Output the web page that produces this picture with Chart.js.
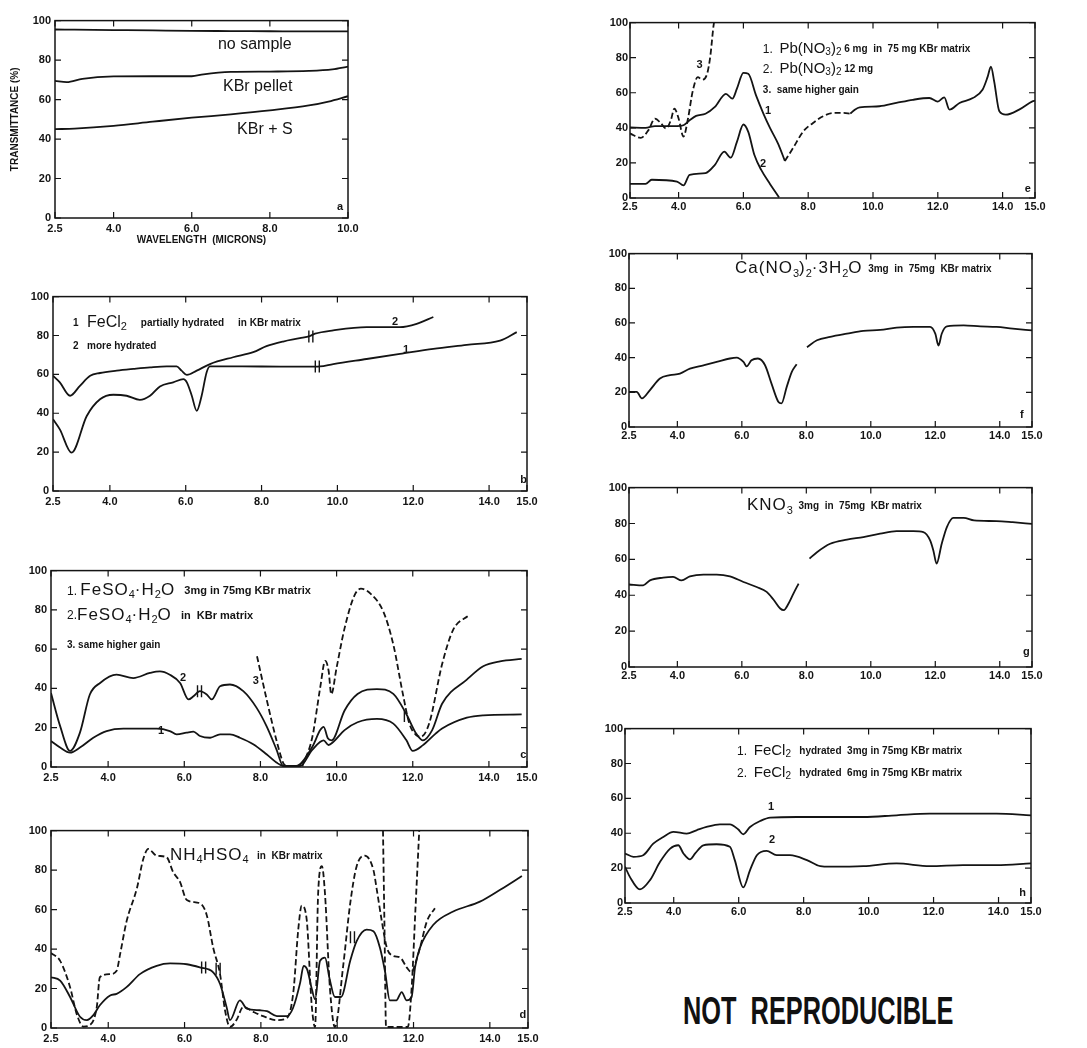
<!DOCTYPE html>
<html>
<head>
<meta charset="utf-8">
<script src="https://cdn.jsdelivr.net/npm/chart.js"></script>
<style>
  html, body { margin: 0; padding: 0; background: #fff; width: 1087px; height: 1048px; overflow: hidden; position: relative; }
  canvas { position: absolute; }
  #stamp {
    position: absolute; left: 683px; top: 992px; white-space: nowrap;
    font: bold 38px "Liberation Sans", Arial, sans-serif; line-height: 38px; color: #111;
    transform: scaleX(0.667); transform-origin: left top;
  }
</style>
</head>
<body>
<canvas id="pa"></canvas>
<canvas id="pb"></canvas>
<canvas id="pc"></canvas>
<canvas id="pd"></canvas>
<canvas id="pe"></canvas>
<canvas id="pf"></canvas>
<canvas id="pg"></canvas>
<canvas id="ph"></canvas>
<div id="stamp">NOT&nbsp;&nbsp;REPRODUCIBLE</div>
<script>
// tick labels
const xTicksShort = [2.5, 4, 6, 8, 10];
const xTicksLong = [2.5, 4, 6, 8, 10, 12, 14, 15];
const yTicks = [0, 20, 40, 60, 80, 100];

// [wavelength (microns), transmittance (%)]
// panel a
const aNoSample = [[2.5,95.5],[3.0,95.4],[4.0,95.2],[5.0,95],[6.0,94.8],[7.0,94.7],[8.0,94.6],[9.0,94.5],[10.0,94.5]];
const aPellet = [[2.5,69.5],[2.8,68.8],[3.2,70.5],[4.0,71.7],[5.0,71.8],[6.0,71.8],[6.3,72.8],[7.0,74],[8.0,74.2],[9.0,74.5],[9.6,75.3],[10.0,76.7]];
const aPelletS = [[2.5,45],[3.0,45.3],[4.0,46.7],[5.0,48.8],[6.0,50.8],[7.0,52.5],[8.0,54.5],[9.0,57],[9.5,59],[10.0,61.7]];

// panel b  FeCl2
const b1 = [[2.5,36.9],[2.68,31.7],[2.99,19.7],[3.39,38.6],[3.74,47.2],[4.09,49.5],[4.44,49],[4.79,46.9],[5.06,49],[5.32,53.8],[5.67,55.9],[5.94,57.6],[6.03,55.9],[6.16,49],[6.29,41.2],[6.42,49],[6.55,61],[6.64,64.1],[7.5,64.1],[8.5,64],[9.41,64],[9.54,64.1],[9.89,65.3],[10.77,67.9],[11.65,70.5],[12.53,73.1],[13.41,75.2],[14.29,77.4],[14.73,81.7]];
const b2 = [[2.5,59.3],[2.68,55.9],[2.95,49],[3.21,54.1],[3.48,59.3],[3.74,60.7],[4.18,61.9],[4.62,62.8],[5.06,63.6],[5.5,64.1],[5.76,64.1],[5.89,61.9],[6.03,59.7],[6.29,61.9],[6.64,65.3],[7.25,68.8],[7.78,71.4],[8.13,74.5],[8.57,76.9],[9.01,78.6],[9.27,79.7],[9.41,80.9],[9.89,82.6],[10.77,84.3],[11.65,84.3],[12.09,86],[12.53,89.5]];

// panel c  FeSO4.H2O
const c1 = [[2.5,13.2],[2.74,9.9],[3.0,7.3],[3.26,9.9],[3.61,14.9],[3.96,18.3],[4.4,19.5],[4.92,19.5],[5.28,19.5],[5.62,18.3],[5.8,16.6],[6.06,17.5],[6.24,18],[6.41,15.8],[6.68,14.9],[6.94,16.6],[7.2,16.6],[7.46,14.9],[7.81,11.6],[8.16,6.5],[8.42,2.3],[8.6,0.5],[9.04,0.5],[9.36,8.7],[9.66,13.6],[9.79,11.2],[9.91,12.7],[10.21,18.8],[10.55,22.8],[11.06,24.5],[11.49,22.1],[11.83,13.7],[12.0,8.2],[12.26,11],[12.6,17],[12.77,19.6],[13.42,25.1],[13.85,26.3],[14.86,26.8]];
const c2 = [[2.5,37.7],[2.74,20.8],[3.0,8.2],[3.26,17.5],[3.52,36.9],[3.79,42.8],[4.22,47],[4.66,45.3],[5.1,47.9],[5.36,48.7],[5.62,47],[5.89,42.8],[6.11,34.4],[6.24,36],[6.41,38.6],[6.59,36.9],[6.72,34.4],[6.94,41.1],[7.2,42],[7.55,38.6],[7.9,30.1],[8.16,20.8],[8.42,9],[8.6,0.5],[8.94,0.5],[9.36,10.2],[9.57,18.8],[9.66,20.4],[9.77,14.6],[9.87,13.6],[10.21,28.8],[10.55,37.2],[11.06,39.7],[11.49,37.2],[11.83,27],[12.09,17],[12.26,13.6],[12.51,18.8],[12.77,32.2],[13.42,44.5],[13.85,51.3],[14.29,53.8],[14.86,55]];
const c3a = [[7.91,56.4],[8.17,33.8],[8.43,12.9],[8.6,2],[8.68,0.3]];
const c3b = [[9.1,0.3],[9.36,15],[9.57,40.5],[9.7,54],[9.79,49],[9.86,37],[10.0,50.6],[10.21,70.7],[10.47,87.4],[10.64,90.8],[10.89,88.3],[11.23,79],[11.49,62.3],[11.74,37.2],[11.91,22.1],[12.09,16.2],[12.21,15.4],[12.43,22.1],[12.77,52.3],[13.06,69.8],[13.48,77.4]];

// panel d  NH4HSO4
const dSolid = [[2.5,25.7],[2.74,24],[3.0,15.7],[3.26,5.7],[3.44,4],[3.61,6.5],[3.78,11.5],[4.05,16.5],[4.22,17.3],[4.48,20.7],[4.83,27.3],[5.27,31.5],[5.62,32.7],[6.06,32.3],[6.4,30.7],[6.75,28.2],[6.93,22.3],[7.1,10.7],[7.19,4],[7.45,14],[7.63,9.8],[7.98,9],[8.16,8.5],[8.42,6],[8.68,6],[8.84,10],[9.03,23],[9.12,31.5],[9.21,29.8],[9.34,19.4],[9.42,14.5],[9.55,34],[9.68,35.7],[9.8,25],[9.94,15.7],[10.1,15.7],[10.34,34],[10.51,44],[10.77,49.8],[10.95,49],[11.12,40.7],[11.25,29],[11.38,14],[11.55,14],[11.69,18.2],[11.82,14],[11.95,15.7],[12.04,30.7],[12.17,40.7],[12.52,52.3],[13.04,59],[13.74,64],[14.27,70],[14.84,77]];
const dDash = [[2.5,38],[2.74,34],[3.0,20.7],[3.17,7.3],[3.35,0.7],[3.52,1.5],[3.7,10.7],[3.78,25.7],[4.05,27.3],[4.22,29],[4.31,37.3],[4.48,54],[4.75,70.7],[4.92,85.7],[5.05,90.7],[5.27,87.3],[5.53,86.5],[5.7,79],[5.88,74],[6.06,64.8],[6.4,63.2],[6.58,57.3],[6.75,40.7],[6.93,27.3],[7.06,9],[7.19,0.5],[7.36,4],[7.54,10.7],[7.8,8.2],[8.06,6],[8.41,4],[8.68,5],[8.85,18],[8.98,50],[9.07,62],[9.2,55],[9.33,12],[9.42,0.5],[9.5,68],[9.6,82],[9.68,68],[9.81,20],[9.94,0.5],[10.16,32],[10.34,63],[10.51,82],[10.72,87.3],[10.95,80],[11.03,71],[11.17,54],[11.3,40.7],[11.47,36.5],[11.65,35.7],[11.82,30.7],[11.95,28.2],[12.04,32.3],[12.17,40.7],[12.35,54],[12.56,60.7]];
const dDash2 = [[11.2,100],[11.24,50],[11.28,0.5],[11.85,0.5],[11.95,20],[12.05,60],[12.15,100]];

// panel e  Pb(NO3)2
const e1a = [[2.5,40.2],[2.98,40],[3.27,41],[3.61,41],[3.95,41],[4.15,41.5],[4.34,44.3],[4.54,46.8],[4.83,48],[5.12,51.9],[5.46,59.4],[5.66,56.6],[5.8,62.3],[6.0,71.3],[6.15,70.8],[6.39,58.5],[6.62,48],[6.82,40],[7.08,30.6],[7.28,21.1]];
const e1b = [[7.28,21.1],[7.54,28.7],[7.85,38],[8.15,42.8],[8.46,46.6],[8.77,48.5],[9.08,48.5],[9.3,48.1]];
const e1c = [[9.3,48.1],[9.45,50.5],[9.59,51.7],[10.2,52.3],[10.72,54.2],[11.23,56],[11.74,57],[12.0,55],[12.2,57.4],[12.36,50.4],[12.67,54.2],[13.08,57],[13.38,61.7],[13.54,69.2],[13.64,74.9],[13.74,66.4],[13.9,49.4],[14.1,47.5],[14.51,50.4],[14.92,55.1],[15,55.5]];
const e2 = [[2.5,8.1],[2.98,8],[3.17,10.4],[3.95,9.4],[4.15,7.2],[4.34,13.2],[4.83,14.2],[5.12,18.9],[5.41,26.4],[5.61,23],[5.8,32],[6.0,41.9],[6.15,37.7],[6.34,24.5],[6.55,16],[6.82,8],[7.03,2.3],[7.1,0.3]];
const e3 = [[2.5,36.8],[2.83,34.3],[3.07,38.7],[3.27,45.3],[3.46,42.5],[3.61,39.6],[3.76,44.3],[3.87,51],[4.0,45.3],[4.15,35],[4.29,45.3],[4.44,61.3],[4.59,68.9],[4.73,67.5],[4.88,70.8],[4.98,81],[5.07,97],[5.1,101]];

// panel f  Ca(NO3)2.3H2O
const f1 = [[2.5,20.3],[2.74,20.3],[2.9,16.5],[3.15,21.3],[3.46,28],[3.77,29.9],[4.08,30.8],[4.39,33.7],[4.81,35.6],[5.22,37.5],[5.63,39.5],[5.84,40],[6.05,37.5],[6.15,35],[6.3,38.5],[6.5,39.5],[6.72,35.6],[6.92,25],[7.13,14.6],[7.23,13.6],[7.39,23],[7.55,31.8],[7.7,36.2]];
const f2 = [[8.02,46],[8.33,50],[8.74,52],[9.26,53.8],[9.77,55.4],[10.29,56],[10.8,57.3],[11.32,57.7],[11.84,57.7],[12.0,53.8],[12.1,47],[12.2,53.8],[12.36,58],[12.88,58.6],[13.4,58],[13.9,57.7],[14.4,56.7],[15,55.7]];

// panel g  KNO3
const g1 = [[2.5,46],[2.94,45.5],[3.15,48.3],[3.56,49.8],[3.87,50.2],[4.13,48.3],[4.39,50.5],[4.81,51.5],[5.22,51.5],[5.63,50.5],[6.05,47.4],[6.46,44.6],[6.77,41.9],[6.98,37.6],[7.19,32.6],[7.3,31.7],[7.45,35.4],[7.6,40.9],[7.76,46.5]];
const g2 = [[8.1,60.4],[8.33,64],[8.74,68.7],[9.26,71],[9.77,72.4],[10.29,74.3],[10.8,75.7],[11.32,75.7],[11.63,75.2],[11.84,70.6],[11.94,65],[12.04,57.6],[12.2,68.7],[12.36,78],[12.56,83.1],[12.88,83.1],[13.2,81.7],[13.9,81.3],[14.4,80.7],[15,79.8]];

// panel h  FeCl2 hydrated
const h1 = [[2.5,28.4],[2.76,26.5],[3.06,27.4],[3.37,34],[3.68,37.9],[3.99,40.8],[4.4,39.8],[4.7,41.7],[5.01,43.6],[5.42,45.1],[5.73,45.1],[5.99,42.1],[6.14,39.4],[6.35,43.6],[6.66,47],[6.97,49],[7.79,49.3],[8.81,49.3],[9.84,49.3],[10.86,50.3],[11.88,51.2],[12.91,51.2],[13.94,51.2],[15,50.3]];
const h2 = [[2.5,20.8],[2.65,15],[2.96,7.8],[3.27,13.1],[3.58,23.6],[3.89,31.2],[4.14,33.1],[4.3,28.4],[4.5,25],[4.66,28.4],[4.91,33.1],[5.32,33.7],[5.73,32.2],[5.88,24.6],[6.14,9],[6.35,18.9],[6.56,27.4],[6.86,29.9],[7.17,27.4],[7.58,27.4],[8.1,24.6],[8.51,21.1],[8.81,20.8],[9.84,21.1],[10.86,22.7],[11.88,21.1],[12.91,21.7],[13.94,21.7],[15,22.7]];

const INK = '#141414';
const FAM = '"Liberation Sans", Arial, sans-serif';
const styles = {
  L15: { font: '15px ' + FAM, dy: 0 },
  L16: { font: '16px ' + FAM, dy: 0 },
  L17: { font: '17px ' + FAM, dy: 0, ls: 1 },
  S10: { font: '10px ' + FAM, dy: 4 },
  S11: { font: '11px ' + FAM, dy: 5 },
  M12: { font: '12px ' + FAM, dy: 1 },
  T10: { font: 'bold 10px ' + FAM, dy: 1 },
  T11: { font: 'bold 11px ' + FAM, dy: 1 },
  N:   { font: 'bold 11px ' + FAM, dy: 0 }
};

function trace(pairs, dashed) {
  return {
    data: pairs.map(p => ({ x: p[0], y: p[1] })),
    borderColor: INK,
    borderWidth: 1.8,
    borderDash: dashed ? [6, 3] : [],
    pointRadius: 0,
    cubicInterpolationMode: 'monotone',
    fill: false
  };
}

// box, inward ticks, break marks and in-plot text
const framePlugin = {
  id: 'frame',
  afterDraw(chart, args, opts) {
    const { ctx, chartArea: a, scales: { x, y } } = chart;
    ctx.save();
    ctx.strokeStyle = INK;
    ctx.lineWidth = 1.5;
    ctx.strokeRect(a.left, a.top, a.right - a.left, a.bottom - a.top);
    ctx.lineWidth = 1.2;
    ctx.beginPath();
    x.ticks.forEach(t => {
      const px = x.getPixelForValue(t.value);
      ctx.moveTo(px, a.top); ctx.lineTo(px, a.top + 6);
      ctx.moveTo(px, a.bottom); ctx.lineTo(px, a.bottom - 6);
    });
    y.ticks.forEach(t => {
      const py = y.getPixelForValue(t.value);
      ctx.moveTo(a.left, py); ctx.lineTo(a.left + 6, py);
      ctx.moveTo(a.right, py); ctx.lineTo(a.right - 6, py);
    });
    ctx.stroke();

    // "||" marks where the recorder trace was interrupted
    ctx.lineWidth = 1.4;
    ctx.beginPath();
    (opts.breaks || []).forEach(b => {
      const px = x.getPixelForValue(b.x);
      const py = y.getPixelForValue(b.y);
      const n = b.n || 2;
      for (let i = 0; i < n; i++) {
        const ox = px + (i - (n - 1) / 2) * 4;
        ctx.moveTo(ox, py - 6); ctx.lineTo(ox, py + 6);
      }
    });
    ctx.stroke();

    ctx.fillStyle = INK;
    ctx.textBaseline = 'middle';
    ctx.textAlign = 'left';
    (opts.labels || []).forEach(l => {
      let px = x.getPixelForValue(l.x);
      const py = y.getPixelForValue(l.y);
      l.parts.forEach(([text, key]) => {
        const s = styles[key];
        ctx.font = s.font;
        ctx.letterSpacing = (s.ls || 0) + 'px';
        ctx.fillText(text, px, py + s.dy);
        px += ctx.measureText(text).width;
      });
    });
    ctx.restore();
  }
};

function panel(id, box, xMax, xTicks, datasets, labels, extra) {
  extra = extra || {};
  const yw = extra.yw || 40;
  const xh = extra.xh || 22;
  const pad = extra.pad === undefined ? 4 : extra.pad;
  const cv = document.getElementById(id);
  cv.width = box.r - box.l + yw + 16;
  cv.height = box.b - box.t + 8 + xh;
  cv.style.left = (box.l - yw) + 'px';
  cv.style.top = (box.t - 8) + 'px';
  const tickFont = { family: FAM, size: 11, weight: 'bold' };
  const titleFont = { family: FAM, size: 10, weight: 'bold' };

  new Chart(cv, {
    type: 'line',
    data: { datasets: datasets },
    options: {
      responsive: false,
      animation: false,
      layout: { padding: { top: 8, right: 16, left: 0, bottom: 0 } },
      plugins: {
        legend: { display: false },
        tooltip: { enabled: false },
        frame: { labels: labels, breaks: extra.breaks || [] }
      },
      scales: {
        x: {
          type: 'linear', min: 2.5, max: xMax,
          afterBuildTicks: s => { s.ticks = xTicks.map(v => ({ value: v })); },
          afterFit: s => { s.height = xh; },
          grid: { display: false, drawTicks: false }, border: { display: false },
          ticks: { autoSkip: false, maxRotation: 0, padding: pad, color: INK, font: tickFont,
                   callback: v => Number(v).toFixed(1) },
          title: { display: !!extra.xTitle, text: extra.xTitle || '', color: INK, font: titleFont,
                   padding: { top: 0, bottom: 2 } }
        },
        y: {
          type: 'linear', min: 0, max: 100,
          afterBuildTicks: s => { s.ticks = yTicks.map(v => ({ value: v })); },
          afterFit: s => { s.width = yw; },
          grid: { display: false, drawTicks: false }, border: { display: false },
          ticks: { padding: pad, color: INK, font: tickFont },
          title: { display: !!extra.yTitle, text: extra.yTitle || '', color: INK, font: titleFont,
                   padding: { top: 0, bottom: 0 } }
        }
      }
    },
    plugins: [framePlugin]
  });
}

panel('pa', { l: 55, t: 18, r: 348, b: 218 }, 10, xTicksShort,
  [trace(aNoSample), trace(aPellet), trace(aPelletS)],
  [
    { x: 6.67, y: 88, parts: [['no sample', 'L16']] },
    { x: 6.8, y: 66.5, parts: [['KBr pellet', 'L16']] },
    { x: 7.16, y: 45, parts: [['KBr + S', 'L16']] },
    { x: 9.72, y: 5.5, parts: [['a', 'N']] }
  ],
  { yw: 46, xh: 30, yTitle: 'TRANSMITTANCE (%)', xTitle: 'WAVELENGTH  (MICRONS)' });

panel('pb', { l: 53, t: 294, r: 527, b: 491 }, 15, xTicksLong,
  [trace(b1), trace(b2)],
  [
    { x: 3.03, y: 86.8, parts: [['1   ', 'T10'], ['FeCl', 'L16'], ['2', 'S11'], ['     partially hydrated     in KBr matrix', 'T10']] },
    { x: 3.03, y: 75.1, parts: [['2   more hydrated', 'T10']] },
    { x: 11.44, y: 86.8, parts: [['2', 'N']] },
    { x: 11.73, y: 72.6, parts: [['1', 'N']] },
    { x: 14.82, y: 5.6, parts: [['b', 'N']] }
  ],
  { breaks: [{ x: 9.3, y: 79.5 }, { x: 9.47, y: 64 }] });

panel('pc', { l: 51, t: 568, r: 527, b: 767 }, 15, xTicksLong,
  [trace(c1), trace(c2), trace(c3a, true), trace(c3b, true)],
  [
    { x: 2.92, y: 90, parts: [['1. ', 'M12'], ['FeSO', 'L17'], ['4', 'S11'], ['·H', 'L17'], ['2', 'S11'], ['O', 'L17'], ['   3mg in 75mg KBr matrix', 'T11']] },
    { x: 2.92, y: 77.4, parts: [['2.', 'M12'], ['FeSO', 'L17'], ['4', 'S11'], ['·H', 'L17'], ['2', 'S11'], ['O', 'L17'], ['   in  KBr matrix', 'T11']] },
    { x: 2.92, y: 62.3, parts: [['3. same higher gain', 'T10']] },
    { x: 5.89, y: 45.2, parts: [['2', 'N']] },
    { x: 5.31, y: 18.6, parts: [['1', 'N']] },
    { x: 7.8, y: 43.7, parts: [['3', 'N']] },
    { x: 14.82, y: 6, parts: [['c', 'N']] }
  ],
  { breaks: [{ x: 6.4, y: 38.6 }, { x: 11.78, y: 26, n: 1 }] });

panel('pd', { l: 51, t: 828, r: 528, b: 1028 }, 15, xTicksLong,
  [trace(dSolid), trace(dDash, true), trace(dDash2, true)],
  [
    { x: 5.62, y: 87.5, parts: [['NH', 'L17'], ['4', 'S11'], ['HSO', 'L17'], ['4', 'S11'], ['   in  KBr matrix', 'T10']] },
    { x: 14.78, y: 6.5, parts: [['d', 'N']] }
  ],
  { breaks: [{ x: 6.5, y: 30.7 }, { x: 6.88, y: 30 }, { x: 10.4, y: 46 }] });

panel('pe', { l: 630, t: 22, r: 1035, b: 198 }, 15, xTicksLong,
  [trace(e1a), trace(e1b, true), trace(e1c), trace(e2), trace(e3, true)],
  [
    { x: 6.6, y: 85.2, parts: [['1.  ', 'M12'], ['Pb(NO', 'L15'], ['3', 'S10'], [')', 'L15'], ['2', 'S10'], [' 6 mg  in  75 mg KBr matrix', 'T10']] },
    { x: 6.6, y: 73.9, parts: [['2.  ', 'M12'], ['Pb(NO', 'L15'], ['3', 'S10'], [')', 'L15'], ['2', 'S10'], [' 12 mg', 'T10']] },
    { x: 6.6, y: 61.9, parts: [['3.  same higher gain', 'T10']] },
    { x: 4.55, y: 76, parts: [['3', 'N']] },
    { x: 6.67, y: 49.4, parts: [['1', 'N']] },
    { x: 6.51, y: 19.2, parts: [['2', 'N']] },
    { x: 14.68, y: 5, parts: [['e', 'N']] }
  ],
  { pad: 2 });

panel('pf', { l: 629, t: 253, r: 1032, b: 427 }, 15, xTicksLong,
  [trace(f1), trace(f2)],
  [
    { x: 5.79, y: 91.4, parts: [['Ca(NO', 'L17'], ['3', 'S11'], [')', 'L17'], ['2', 'S11'], ['·3H', 'L17'], ['2', 'S11'], ['O', 'L17'], ['  3mg  in  75mg  KBr matrix', 'T10']] },
    { x: 14.63, y: 7, parts: [['f', 'N']] }
  ],
  { pad: 2 });

panel('pg', { l: 629, t: 487, r: 1032, b: 667 }, 15, xTicksLong,
  [trace(g1), trace(g2)],
  [
    { x: 6.16, y: 90, parts: [['KNO', 'L17'], ['3', 'S11'], ['  3mg  in  75mg  KBr matrix', 'T10']] },
    { x: 14.72, y: 8.3, parts: [['g', 'N']] }
  ],
  { pad: 2 });

panel('ph', { l: 625, t: 728, r: 1031, b: 903 }, 15, xTicksLong,
  [trace(h1), trace(h2)],
  [
    { x: 5.95, y: 87.4, parts: [['1.  ', 'M12'], ['FeCl', 'L15'], ['2', 'S10'], ['   hydrated  3mg in 75mg KBr matrix', 'T10']] },
    { x: 5.95, y: 74.9, parts: [['2.  ', 'M12'], ['FeCl', 'L15'], ['2', 'S10'], ['   hydrated  6mg in 75mg KBr matrix', 'T10']] },
    { x: 6.9, y: 55, parts: [['1', 'N']] },
    { x: 6.93, y: 36, parts: [['2', 'N']] },
    { x: 14.64, y: 6, parts: [['h', 'N']] }
  ],
  { pad: 2 });
</script>
</body>
</html>
